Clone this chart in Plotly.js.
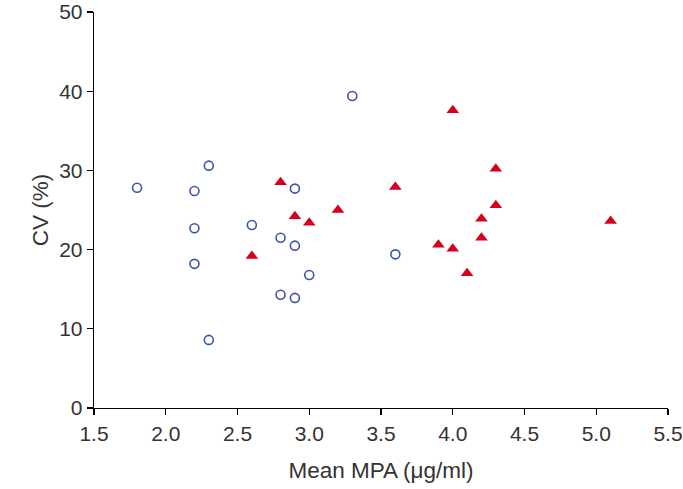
<!DOCTYPE html>
<html><head><meta charset="utf-8">
<script src="https://cdn.plot.ly/plotly-3.0.1.min.js"></script>
<style>html,body{margin:0;padding:0;background:#fff}</style>
</head><body><div id="chart" style="width:683px;height:489px"></div>
<script>
var circleX = [1.8, 2.2, 2.3, 2.2, 2.2, 2.3, 2.6, 2.8, 2.8, 2.9, 2.9, 2.9, 3.0, 3.3, 3.6];
var circleY = [27.8, 27.4, 30.6, 22.7, 18.2, 8.6, 23.1, 21.5, 14.3, 27.7, 20.5, 13.9, 16.8, 39.4, 19.4];
var triX = [2.6, 2.8, 2.9, 3.0, 3.2, 3.6, 4.0, 3.9, 4.0, 4.1, 4.2, 4.2, 4.3, 4.3, 5.1];
var triY = [19.2, 28.5, 24.2, 23.4, 25.0, 27.9, 37.6, 20.6, 20.1, 17.0, 23.9, 21.5, 30.2, 25.6, 23.6];
var xTicks = [1.5, 2.0, 2.5, 3.0, 3.5, 4.0, 4.5, 5.0, 5.5];
var xTickText = ['1.5', '2.0', '2.5', '3.0', '3.5', '4.0', '4.5', '5.0', '5.5'];
var yTicks = [0, 10, 20, 30, 40, 50];

var traces = [
  {x: circleX, y: circleY, mode: 'markers', type: 'scatter', cliponaxis: false,
   marker: {symbol: 'circle-open', size: 9, color: '#3d55a8', line: {width: 1.6, color: '#3d55a8'}}},
  {x: triX, y: triY, mode: 'markers', type: 'scatter', cliponaxis: false,
   marker: {symbol: 'triangle-up', size: 11, color: '#d6001c', line: {width: 0}}}
];
var tickFont = {family: 'Liberation Sans, Arial, sans-serif', size: 21, color: '#333'};
var titleFont = {family: 'Liberation Sans, Arial, sans-serif', size: 22.5, color: '#333'};
var layout = {
  width: 683, height: 489,
  margin: {l: 94, r: 15, t: 12, b: 81},
  showlegend: false,
  paper_bgcolor: '#fff', plot_bgcolor: '#fff',
  font: tickFont,
  xaxis: {range: [1.5, 5.5], tickvals: xTicks, ticktext: xTickText, ticks: 'outside', ticklen: 6,
    tickcolor: '#000', tickwidth: 1.3, showline: true, linecolor: '#000', linewidth: 1.3,
    showgrid: false, zeroline: false, tickfont: tickFont,
    title: {text: 'Mean MPA (\u03bcg/ml)', font: titleFont, standoff: 18}},
  yaxis: {range: [0, 50], tickvals: yTicks, ticks: 'outside', ticklen: 6,
    tickcolor: '#000', tickwidth: 1.3, showline: true, linecolor: '#000', linewidth: 1.3,
    showgrid: false, zeroline: false, tickfont: tickFont,
    title: {text: 'CV (%)', font: titleFont, standoff: 4}}
};
Plotly.newPlot('chart', traces, layout, {displayModeBar: false, staticPlot: true});
</script></body></html>
